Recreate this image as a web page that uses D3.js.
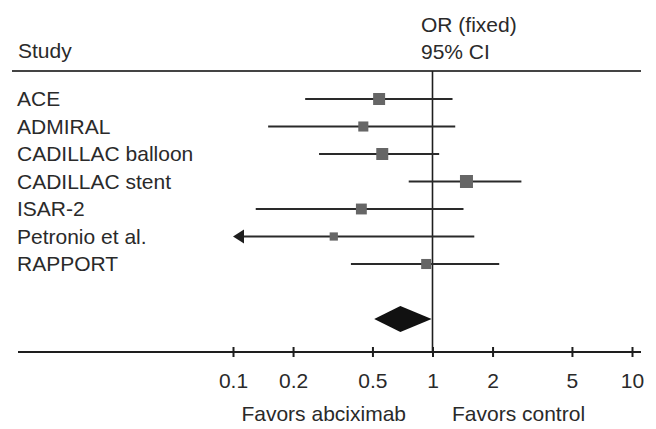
<!DOCTYPE html>
<html>
<head>
<meta charset="utf-8">
<script src="https://cdn.jsdelivr.net/npm/d3@7"></script>
<style>
  body { margin: 0; background: #fff; }
  text { font-family: "Liberation Sans", Arial, sans-serif; fill: #2a2a2a; }
</style>
</head>
<body>
<svg width="656" height="429"></svg>
<script>
// study data (odds ratios)
var studies = ["ACE", "ADMIRAL", "CADILLAC balloon", "CADILLAC stent", "ISAR-2", "Petronio et al.", "RAPPORT"];
var or = [0.54, 0.45, 0.56, 1.48, 0.44, 0.32, 0.93];
var lower = [0.23, 0.15, 0.27, 0.76, 0.13, 0.05, 0.39];
var upper = [1.26, 1.30, 1.08, 2.79, 1.43, 1.62, 2.16];
var weight = [17, 12, 17, 20, 14, 8, 12];
var pooled = { or: 0.69, lower: 0.51, upper: 0.99 };
var ticks = [0.1, 0.2, 0.5, 1, 2, 5, 10];

var svg = d3.select("svg");
var ink = "#1e1e1e";

var x = d3.scaleLog().domain([0.1, 10]).range([233, 632]);
var y = d3.scalePoint().domain(studies).range([99, 264]);
var size = d3.scaleSqrt().domain([0, 20]).range([0, 13]);
var yPooled = 319, yAxis = 352;

// header
svg.append("text").attr("x", 18).attr("y", 58).style("font-size", "21px").text("Study");
svg.append("text").attr("x", 421).attr("y", 32).style("font-size", "21px").text("OR (fixed)");
svg.append("text").attr("x", 421).attr("y", 59).style("font-size", "21px").text("95% CI");

svg.append("line")
    .attr("x1", 12).attr("x2", 641).attr("y1", 71).attr("y2", 71)
    .attr("stroke", "#444").attr("stroke-width", 2);

// line of no effect
svg.append("line")
    .attr("x1", x(1)).attr("x2", x(1)).attr("y1", 71).attr("y2", yAxis)
    .attr("stroke", ink).attr("stroke-width", 1.6);

var rows = svg.selectAll("g.row")
    .data(studies)
    .enter().append("g")
    .attr("class", "row");

rows.append("text")
    .attr("x", 17)
    .attr("y", function (d) { return y(d) + 7; })
    .style("font-size", "21px")
    .text(function (d) { return d; });

rows.append("line")
    .attr("x1", function (d, i) { return x(Math.max(lower[i], 0.1)) + (lower[i] < 0.1 ? 8 : 0); })
    .attr("x2", function (d, i) { return x(upper[i]); })
    .attr("y1", function (d) { return y(d); })
    .attr("y2", function (d) { return y(d); })
    .attr("stroke", "#2a2a2a").attr("stroke-width", 2.2);

rows.append("rect")
    .attr("x", function (d, i) { return x(or[i]) - size(weight[i]) / 2; })
    .attr("y", function (d, i) { return y(d) - size(weight[i]) / 2; })
    .attr("width", function (d, i) { return size(weight[i]); })
    .attr("height", function (d, i) { return size(weight[i]); })
    .attr("fill", "#666");

// arrow for CI running off the scale
rows.filter(function (d, i) { return lower[i] < 0.1; })
    .append("path")
    .attr("d", function (d) {
        var x0 = x(0.1), y0 = y(d);
        return "M" + x0 + "," + y0 + "L" + (x0 + 11) + "," + (y0 - 7) + "L" + (x0 + 11) + "," + (y0 + 7) + "Z";
    })
    .attr("fill", ink);

// pooled diamond
svg.append("path")
    .attr("d", "M" + x(pooled.lower) + "," + yPooled +
        "L" + x(pooled.or) + "," + (yPooled - 13) +
        "L" + x(pooled.upper) + "," + yPooled +
        "L" + x(pooled.or) + "," + (yPooled + 13) + "Z")
    .attr("fill", "#111");

// x axis
var axis = d3.axisBottom(x)
    .tickValues(ticks)
    .tickFormat(function (d) { return d; })
    .tickSizeInner(5)
    .tickSizeOuter(0);

var gAxis = svg.append("g")
    .attr("transform", "translate(0," + yAxis + ")")
    .call(axis);

gAxis.select(".domain").remove();
gAxis.selectAll(".tick line")
    .attr("y1", -5).attr("y2", 5)
    .attr("stroke", ink).attr("stroke-width", 2);
gAxis.selectAll(".tick text")
    .attr("y", 36).attr("dy", null)
    .style("font-size", "21px")
    .style("font-family", "'Liberation Sans', Arial, sans-serif")
    .attr("fill", "#2a2a2a");

gAxis.append("line")
    .attr("x1", 18).attr("x2", 641).attr("y1", 0).attr("y2", 0)
    .attr("stroke", ink).attr("stroke-width", 2);

svg.append("text").attr("x", 406).attr("y", 421).attr("text-anchor", "end")
    .style("font-size", "21px").text("Favors abciximab");
svg.append("text").attr("x", 452).attr("y", 421)
    .style("font-size", "21px").text("Favors control");
</script>
</body>
</html>
